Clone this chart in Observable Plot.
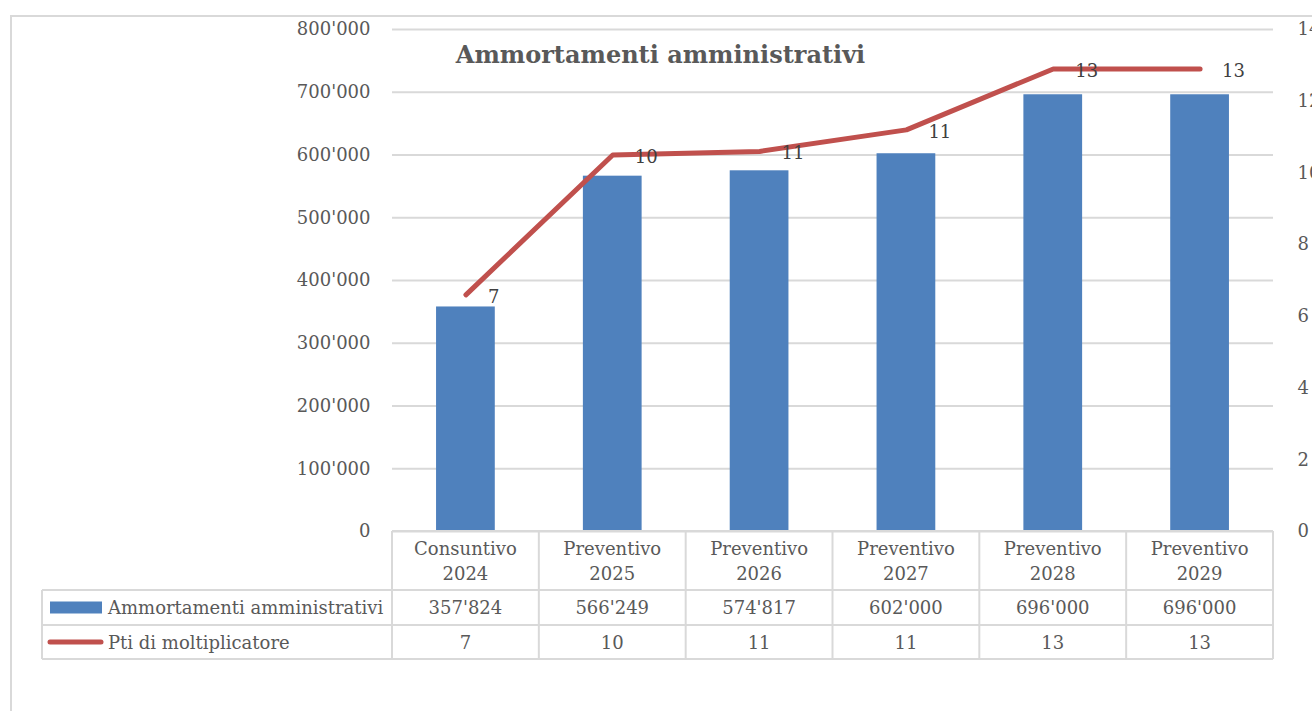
<!DOCTYPE html>
<html><head><meta charset="utf-8">
<script src="https://cdn.jsdelivr.net/npm/d3@7"></script>
<script src="https://cdn.jsdelivr.net/npm/@observablehq/plot@0.6"></script>
<style>
html,body{margin:0;padding:0;background:#fff;overflow:hidden}
#wrap{position:relative;width:1312px;height:711px;overflow:hidden}
#frame{position:absolute;left:10px;top:15px;width:1400px;height:800px;border:2px solid #d9d9d9;box-sizing:border-box}
#chart{position:absolute;left:0;top:0}
#chart svg{overflow:visible}
</style></head><body>
<div id="wrap"><div id="frame"></div><div id="chart"></div></div>
<script>
const title = "Ammortamenti amministrativi";
const categories = ["Consuntivo 2024", "Preventivo 2025", "Preventivo 2026", "Preventivo 2027", "Preventivo 2028", "Preventivo 2029"];
const ammortamenti = [357824, 566249, 574817, 602000, 696000, 696000];
const puntiMoltiplicatore = [6.6, 10.5, 10.6, 11.2, 12.9, 12.9];
const puntiLabels = [7, 10, 11, 11, 13, 13];
const seriesNames = ["Ammortamenti amministrativi", "Pti di moltiplicatore"];
const leftTicks = [0, 100000, 200000, 300000, 400000, 500000, 600000, 700000, 800000];
const rightTicks = [0, 2, 4, 6, 8, 10, 12, 14];
const leftMax = 800000, rightMax = 14;

const k = leftMax / rightMax;
const fmt = d => d3.format(",")(d).replace(/,/g, "'");
const FONT = "DejaVu Serif";
const data = categories.map((c, i) => ({cat: c, amm: ammortamenti[i], pti: puntiMoltiplicatore[i], lab: puntiLabels[i]}));

const plot = Plot.plot({
  width: 1312, height: 711,
  marginTop: 29, marginBottom: 180, marginLeft: 392, marginRight: 39,
  style: {fontFamily: FONT, fontSize: "18px", color: "#595959", background: "transparent", overflow: "visible"},
  x: {domain: categories, paddingInner: 0.6, paddingOuter: 0.3, round: false, axis: null},
  y: {domain: [0, leftMax], axis: null},
  marks: [
    Plot.ruleY(leftTicks, {stroke: "#d9d9d9", strokeWidth: 2}),
    Plot.axisY(leftTicks, {anchor: "left", label: null, tickSize: 0, tickPadding: 22, tickFormat: fmt, fontSize: 18}),
    Plot.axisY(rightTicks.map(v => v * k), {anchor: "right", label: null, tickSize: 0, tickPadding: 24, tickFormat: d => Math.round(d / k), fontSize: 18}),
    Plot.barY(data, {x: "cat", y: "amm", fill: "#4f81bd"}),
    Plot.line(data, {x: "cat", y: d => d.pti * k, stroke: "#c0504d", strokeWidth: 5, strokeLinecap: "round", strokeLinejoin: "round"}),
    Plot.text(data, {x: "cat", y: d => d.pti * k, text: "lab", textAnchor: "start", dx: 22, dy: 2, fill: "#404040", fontSize: 18}),
    Plot.text([title], {frameAnchor: "top-left", dx: 268, dy: 26, textAnchor: "middle", lineAnchor: "middle", fontWeight: "bold", fontSize: 24, fill: "#595959"})
  ]
});
document.getElementById("chart").appendChild(plot);

// data table below the chart, positioned with the plot's own scales
const xs = plot.scale("x"), ys = plot.scale("y");
const step = xs.step, bw = xs.bandwidth;
const left = c => xs.apply(c) - (step - bw) / 2;
const center = c => xs.apply(c) + bw / 2;
const y0 = ys.apply(0);
const rowTops = [y0, y0 + 59, y0 + 94, y0 + 128];
const x0 = left(categories[0]);
const xEnd = left(categories[categories.length - 1]) + step;
const labelLeft = 42;
const svg = d3.select(plot.tagName.toLowerCase() === "svg" ? plot : plot.querySelector("svg"));
const g = svg.append("g").attr("font-family", FONT).attr("font-size", 18).attr("fill", "#595959").attr("text-anchor", "middle");
const line = (x1, y1, x2, y2) => g.append("line").attr("x1", x1).attr("y1", y1).attr("x2", x2).attr("y2", y2).attr("stroke", "#d9d9d9").attr("stroke-width", 2);
line(x0, rowTops[0], xEnd, rowTops[0]);
[1, 2, 3].forEach(r => line(labelLeft, rowTops[r], xEnd, rowTops[r]));
categories.forEach(c => line(left(c), rowTops[0], left(c), rowTops[3]));
line(xEnd, rowTops[0], xEnd, rowTops[3]);
line(labelLeft, rowTops[1], labelLeft, rowTops[3]);
// header
categories.forEach(c => {
  const parts = c.split(" ");
  parts.forEach((p, j) => g.append("text").attr("x", center(c)).attr("y", rowTops[0] + 17 + j * 25)
    .attr("text-anchor", "middle").attr("dominant-baseline", "central").text(p));
});
// rows
const rowVals = [ammortamenti.map(fmt), puntiLabels.map(String)];
rowVals.forEach((vals, r) => {
  const cy = (rowTops[r + 1] + rowTops[r + 2]) / 2;
  categories.forEach((c, i) => g.append("text").attr("x", center(c)).attr("y", cy)
    .attr("text-anchor", "middle").attr("dominant-baseline", "central").text(vals[i]));
  g.append("text").attr("x", 108).attr("y", cy).attr("text-anchor", "start").attr("dominant-baseline", "central").text(seriesNames[r]);
});
// legend keys
const cy1 = (rowTops[1] + rowTops[2]) / 2, cy2 = (rowTops[2] + rowTops[3]) / 2;
g.append("rect").attr("x", 50).attr("y", cy1 - 6).attr("width", 52).attr("height", 12).attr("fill", "#4f81bd");
g.append("line").attr("x1", 50).attr("x2", 101).attr("y1", cy2).attr("y2", cy2).attr("stroke", "#c0504d").attr("stroke-width", 5).attr("stroke-linecap", "round");
</script>
</body></html>
